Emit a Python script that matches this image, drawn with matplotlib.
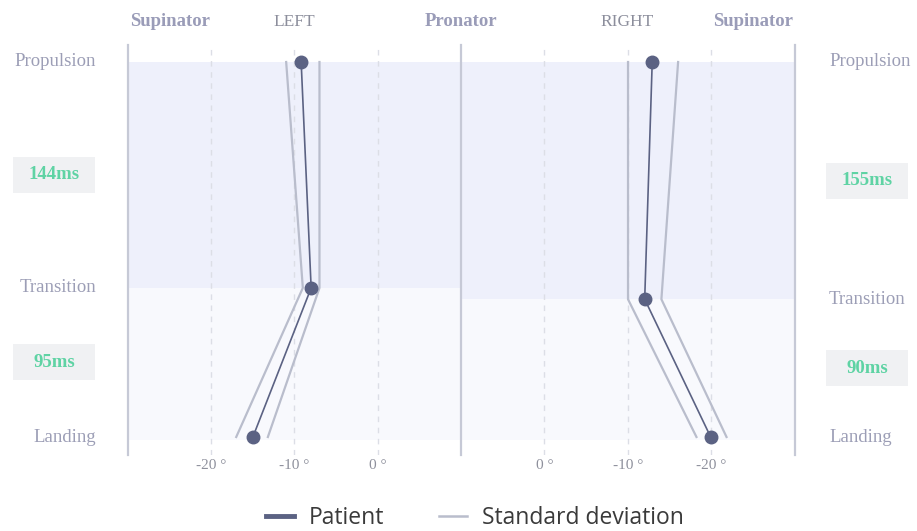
import matplotlib.pyplot as plt
from matplotlib.lines import Line2D
from matplotlib.patches import Rectangle

# phase durations (ms)
LEFT_LANDING_MS = 95
LEFT_PROPULSION_MS = 144
RIGHT_LANDING_MS = 90
RIGHT_PROPULSION_MS = 155

PHASES = ["Landing", "Transition", "Propulsion"]

# angles in degrees at Landing, Transition, Propulsion
LEFT_PATIENT = [-15.0, -8.0, -9.2]
LEFT_SD_LOW = [-17.0, -9.0, -11.0]
LEFT_SD_HIGH = [-13.2, -7.0, -7.0]

RIGHT_PATIENT = [-19.9, -12.0, -12.9]
RIGHT_SD_LOW = [-18.2, -10.0, -10.0]
RIGHT_SD_HIGH = [-21.8, -14.0, -16.0]

TICKS = [-20, -10, 0]
TICK_LABELS = ["-20 °", "-10 °", "0 °"]

W, H = 917, 531
PATIENT_C = "#5b6283"
SD_C = "#b9bdcc"
BORDER_C = "#c6c9d6"
LABEL_C = "#9a9cb8"
SERIF = ["Liberation Serif", "DejaVu Serif"]

fig = plt.figure(figsize=(W / 100, H / 100), dpi=100)


def px_axes(x0, x1, y0, y1):
    return fig.add_axes([x0 / W, 1 - y1 / H, (x1 - x0) / W, (y1 - y0) / H])


def fig_text(x, y, s, ha="center", **kw):
    fig.text(x / W, 1 - y / H, s, ha=ha, va="center", **kw)


def draw_side(ax, landing_ms, prop_ms, patient, sd_lo, sd_hi, xlim):
    total = landing_ms + prop_ms
    ys = [0, landing_ms, total]
    scale = total / 375.0
    ax.set_ylim(-18 * scale, total + 17 * scale)
    ax.set_xlim(*xlim)
    lo, hi = min(xlim), max(xlim)
    ax.fill_between([lo, hi], landing_ms, total, color="#eef0fb", lw=0, zorder=0)
    ax.fill_between([lo, hi], -3 * scale, landing_ms, color="#f8f9fd", lw=0, zorder=0)
    for t in TICKS:
        ax.axvline(t, color="#dcdee6", lw=1, ls=(0, (4, 4)), zorder=1)
    ax.plot(sd_lo, ys, color=SD_C, lw=1.6, zorder=2)
    ax.plot(sd_hi, ys, color=SD_C, lw=1.6, zorder=2)
    ax.plot(patient, ys, color=PATIENT_C, lw=1.2, marker="o", ms=9, zorder=3)
    ax.set_xticks(TICKS)
    ax.set_xticklabels(TICK_LABELS, fontfamily=SERIF, fontsize=11, color="#8e909c")
    ax.tick_params(axis="x", length=0, pad=3)
    ax.set_yticks([])
    for s in ax.spines.values():
        s.set_visible(False)
    ax.patch.set_alpha(0)


ax_l = px_axes(128, 461, 45, 455)
draw_side(ax_l, LEFT_LANDING_MS, LEFT_PROPULSION_MS,
          LEFT_PATIENT, LEFT_SD_LOW, LEFT_SD_HIGH, (-30, 10))
ax_r = px_axes(461, 795, 45, 455)
draw_side(ax_r, RIGHT_LANDING_MS, RIGHT_PROPULSION_MS,
          RIGHT_PATIENT, RIGHT_SD_LOW, RIGHT_SD_HIGH, (10, -30))

# panel borders
for x in (128, 461, 795):
    fig.add_artist(Line2D([x / W, x / W], [1 - 455 / H, 1 - 45 / H],
                          color=BORDER_C, lw=1.6))

# headers
fig_text(170, 22, "Supinator", fontfamily=SERIF, fontsize=13.5, fontweight="bold", color=LABEL_C)
fig_text(294, 22, "LEFT", fontfamily=SERIF, fontsize=12.5, color="#8c8e9c")
fig_text(461, 22, "Pronator", fontfamily=SERIF, fontsize=13.5, fontweight="bold", color=LABEL_C)
fig_text(627, 22, "RIGHT", fontfamily=SERIF, fontsize=12.5, color="#8c8e9c")
fig_text(753, 22, "Supinator", fontfamily=SERIF, fontsize=13.5, fontweight="bold", color=LABEL_C)


def phase_labels(x, ys, ha):
    for name, y in zip(PHASES, ys):
        fig_text(x, y, name, ha=ha, fontfamily=SERIF, fontsize=13.5, color="#9c9eb6")


def ms_box(xc, y, s):
    fig.add_artist(Rectangle(((xc - 41) / W, 1 - (y + 18) / H), 82 / W, 36 / H,
                             transform=fig.transFigure, fc="#f0f1f3", ec="none"))
    fig_text(xc, y, s, fontfamily=SERIF, fontsize=13.5, fontweight="bold", color="#5fd3a4")


# left labels
l_total = LEFT_LANDING_MS + LEFT_PROPULSION_MS
l_trans_y = 437 - 375 * LEFT_LANDING_MS / l_total
phase_labels(96, [437, l_trans_y, 62], "right")
ms_box(54, (62 + l_trans_y) / 2, f"{LEFT_PROPULSION_MS}ms")
ms_box(54, (437 + l_trans_y) / 2, f"{LEFT_LANDING_MS}ms")

# right labels
r_total = RIGHT_LANDING_MS + RIGHT_PROPULSION_MS
r_trans_y = 437 - 375 * RIGHT_LANDING_MS / r_total
phase_labels(829, [437, r_trans_y, 62], "left")
ms_box(867, (62 + r_trans_y) / 2, f"{RIGHT_PROPULSION_MS}ms")
ms_box(867, (437 + r_trans_y) / 2, f"{RIGHT_LANDING_MS}ms")

handles = [Line2D([], [], color=PATIENT_C, lw=3.5),
           Line2D([], [], color=SD_C, lw=1.8)]
fig.legend(handles, ["Patient", "Standard deviation"], loc="center",
           bbox_to_anchor=(475 / W, 1 - 518 / H), ncol=2, frameon=False,
           prop={"family": "Open Sans", "size": 16.5}, handlelength=1.2,
           columnspacing=2.4, handletextpad=0.65, labelcolor="#3a3a3a")

fig.savefig("out.png", dpi=100, facecolor="white")
